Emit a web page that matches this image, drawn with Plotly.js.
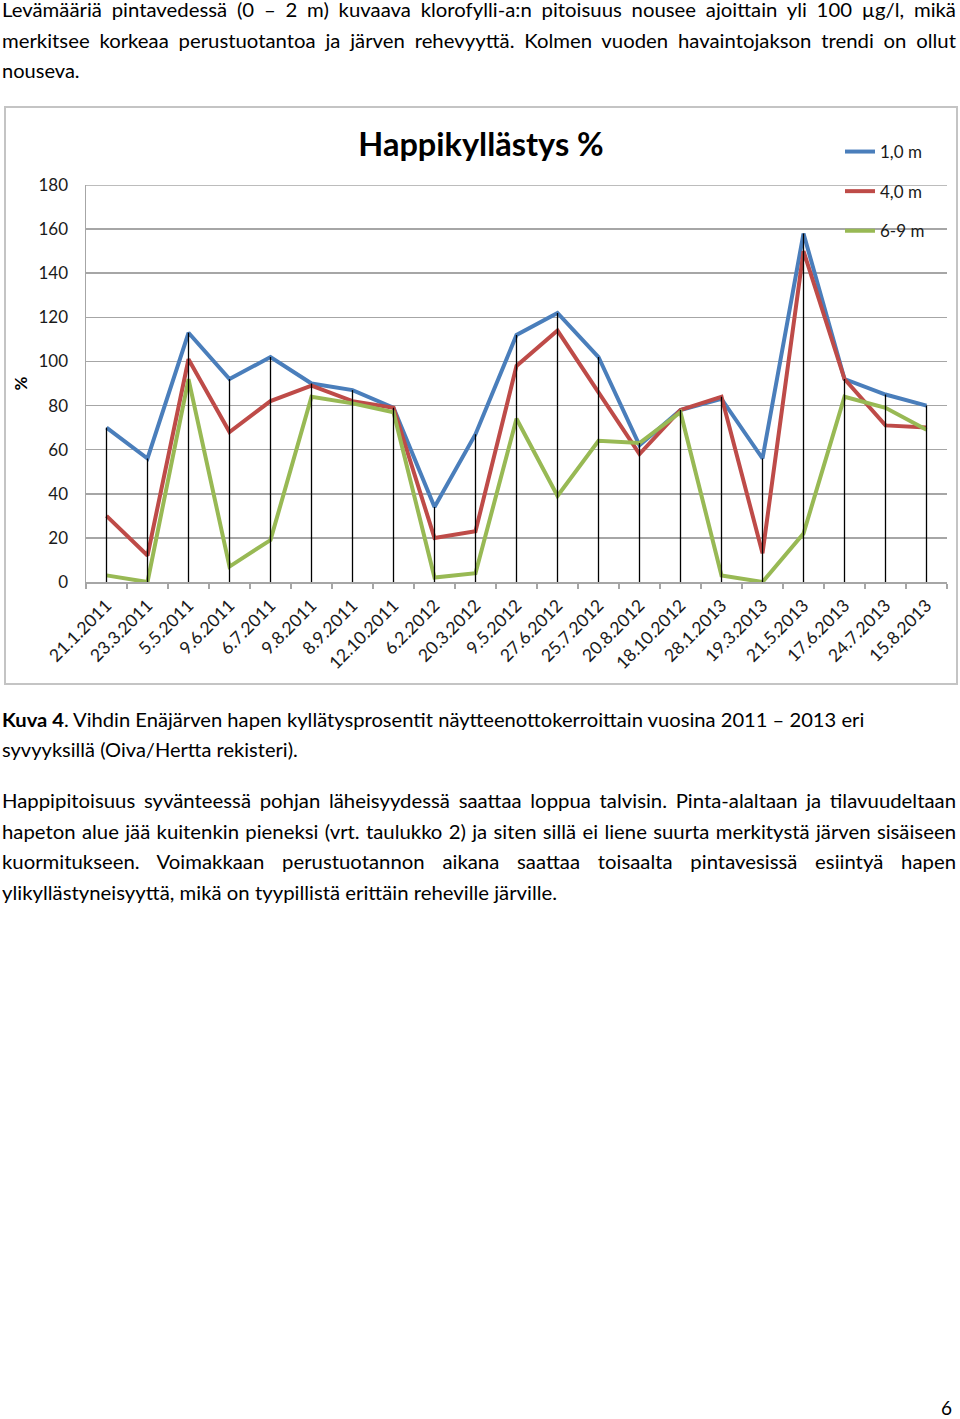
<!DOCTYPE html>
<html><head><meta charset="utf-8">
<script src="https://cdn.plot.ly/plotly-3.0.1.min.js"></script>
<style>
html,body{margin:0;padding:0;background:#fff;}
body{width:960px;height:1419px;position:relative;overflow:hidden;font-family:Lato,'Open Sans',sans-serif;color:#000;}
.ln{position:absolute;left:2px;font-size:18.5px;line-height:30px;height:30px;white-space:nowrap;transform-origin:0 0;display:inline-block;}
.ln.j{white-space:normal;text-align:justify;text-align-last:justify;display:block;}
#box{position:absolute;left:4px;top:106px;width:950px;height:575px;border:2px solid #C4C4C4;}
#chart{position:absolute;left:5px;top:107px;width:952px;height:576px;}
#pg{position:absolute;left:941px;top:1396px;font-size:19px;line-height:24px;}
</style></head>
<body>
<div class="ln j" style="top:-5px">Levämääriä pintavedessä (0 – 2 m) kuvaava klorofylli-a:n pitoisuus nousee ajoittain yli 100 µg/l, mikä</div>
<div class="ln j" style="top:26px">merkitsee korkeaa perustuotantoa ja järven rehevyyttä. Kolmen vuoden havaintojakson trendi on ollut</div>
<div class="ln" data-w="78" style="top:56px">nouseva.</div>
<div id="box"></div>
<div id="chart"></div>
<div class="ln" data-w="862" style="top:705px"><b>Kuva 4</b>. Vihdin Enäjärven hapen kyllätysprosentit näytteenottokerroittain vuosina 2011 – 2013 eri</div>
<div class="ln" data-w="296" style="top:735px">syvyyksillä (Oiva/Hertta rekisteri).</div>
<div class="ln j" style="top:786px">Happipitoisuus syvänteessä pohjan läheisyydessä saattaa loppua talvisin. Pinta-alaltaan ja tilavuudeltaan</div>
<div class="ln j" style="top:817px">hapeton alue jää kuitenkin pieneksi (vrt. taulukko 2) ja siten sillä ei liene suurta merkitystä järven sisäiseen</div>
<div class="ln j" style="top:847px">kuormitukseen. Voimakkaan perustuotannon aikana saattaa toisaalta pintavesissä esiintyä hapen</div>
<div class="ln" id="l9" data-w="555" style="top:878px">ylikyllästyneisyyttä, mikä on tyypillistä erittäin reheville järville.</div>
<div id="pg">6</div>
<script>
const dates = ['21.1.2011','23.3.2011','5.5.2011','9.6.2011','6.7.2011','9.8.2011','8.9.2011','12.10.2011','6.2.2012','20.3.2012','9.5.2012','27.6.2012','25.7.2012','20.8.2012','18.10.2012','28.1.2013','19.3.2013','21.5.2013','17.6.2013','24.7.2013','15.8.2013'];
const depth1 = [70,56,113,92,102,90,87,79,34,67,112,122,102,62,78,83,56,158,92,85,80];
const depth4 = [30,12,101,68,82,89,82,79,20,23,98,114,86,58,78,84,13,150,92,71,70];
const depth69 = [3,0,92,7,19,84,81,77,2,4,74,39,64,63,77,3,0,22,84,79,69];
const seriesNames = ['1,0 m','4,0 m','6-9 m'];
const yTicks = [0,20,40,60,80,100,120,140,160,180];

function fitText(){
  const ref = document.getElementById('l9');
  const sRef = 555 / ref.offsetWidth;
  document.querySelectorAll('.ln').forEach(el=>{
    if(el.classList.contains('j')){
      el.style.width = (954 / sRef) + 'px';
      el.style.transform = 'scaleX(' + sRef + ')';
    } else {
      const w = parseFloat(el.dataset.w);
      const s = w / el.offsetWidth;
      el.style.transform = 'scaleX(' + s + ')';
    }
  });
}
fitText();
if (document.fonts && document.fonts.ready) document.fonts.ready.then(fitText);

const colors = ['#4A7EBB','#BE4B48','#98B954'];
const vals = [depth1, depth4, depth69];
const traces = vals.map((v,i)=>({
  type:'scatter', mode:'lines', x:dates, y:v, name:seriesNames[i],
  line:{color:colors[i], width:4}, legendgroup:'g'+i, hoverinfo:'skip'
}));
const dx=[], dy=[];
dates.forEach((d,i)=>{
  const m = Math.max(depth1[i], depth4[i], depth69[i]);
  dx.push(d,d,null); dy.push(0,m,null);
});
traces.push({type:'scatter', mode:'lines', x:dx, y:dy, showlegend:false,
  line:{color:'#000', width:1.3}, hoverinfo:'skip'});

const font = {family:'Lato, Open Sans, sans-serif', size:17, color:'#1a1a1a'};
const yTop = yTicks[yTicks.length-1];
const layout = {
  width:952, height:576,
  margin:{l:81, r:10, t:78, b:101},
  paper_bgcolor:'rgba(0,0,0,0)', plot_bgcolor:'#fff',
  font: font,
  title:{text:'<b>Happikyllästys %</b>', font:{family:'Lato, sans-serif', size:32.5, color:'#000'},
    x:0.5, xref:'container', xanchor:'center', y:1-38/576, yref:'container', yanchor:'middle'},
  showlegend:true,
  legend:{x:(835-81)/861, xanchor:'left', y:1+(78-27)/397, yanchor:'top',
    bgcolor:'rgba(0,0,0,0)', tracegroupgap:14.5, font:font, itemwidth:30},
  shapes:[{type:'line', xref:'paper', yref:'y', x0:0, x1:1, y0:yTop, y1:yTop,
    line:{color:'#A6A6A6', width:1.5}, layer:'below'}],
  xaxis:{type:'category', showgrid:false, showline:true, linecolor:'#A6A6A6', linewidth:1.5,
    ticks:'outside', tickson:'boundaries', ticklen:5, tickcolor:'#A6A6A6', tickwidth:1.5,
    tickangle:-45, tickfont:{family:font.family, size:17.5, color:font.color}, ticklabelstandoff:5,
    fixedrange:true, range:[-0.5, dates.length-0.5]},
  yaxis:{range:[0,yTop], tickvals:yTicks, showgrid:true, gridcolor:'#A6A6A6', gridwidth:1.5,
    showline:true, linecolor:'#A6A6A6', linewidth:1.5, zeroline:false, ticks:'',
    ticklabelstandoff:13, tickfont:font,
    title:{text:'<b>%</b>', font:{family:'Lato, sans-serif', size:17, color:'#000'}, standoff:6}}
};
Plotly.newPlot('chart', traces, layout, {staticPlot:true, displayModeBar:false});
</script>
</body></html>
